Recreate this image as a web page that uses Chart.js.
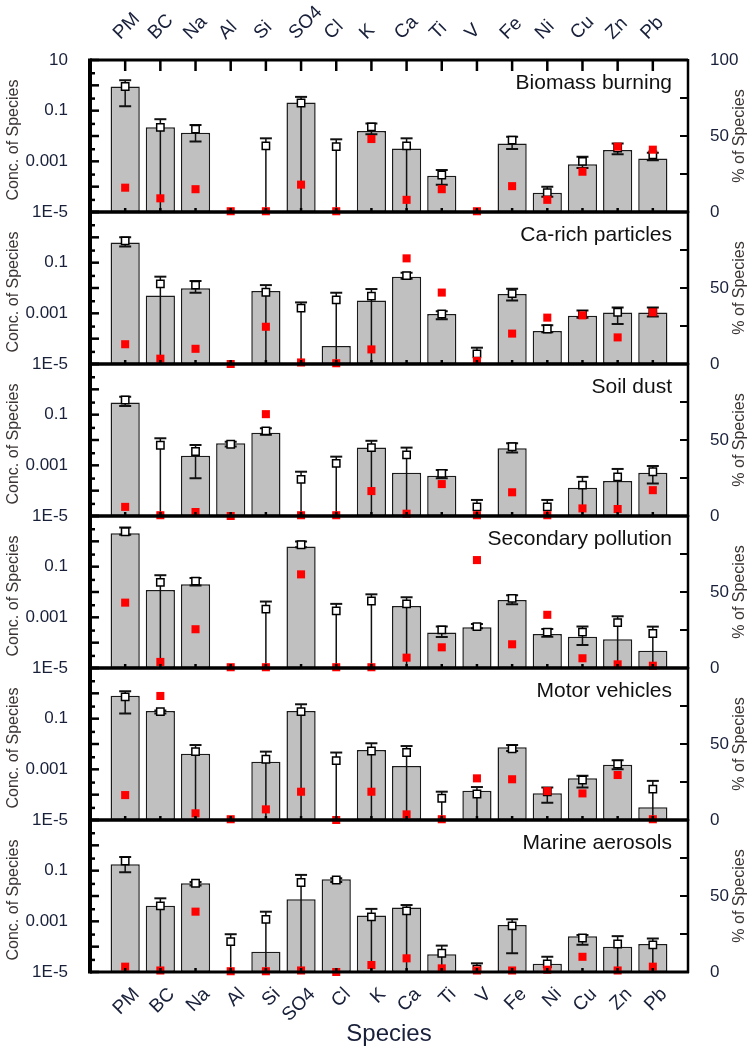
<!DOCTYPE html>
<html>
<head>
<meta charset="utf-8">
<script src="https://cdn.jsdelivr.net/npm/chart.js@4.4.1/dist/chart.umd.min.js"></script>
<style>
  html, body { margin: 0; padding: 0; background: #fff; }
  #wrap { position: relative; width: 750px; height: 1050px; background: #fff; overflow: hidden; }
  #wrap canvas { position: absolute; left: 0; }
</style>
</head>
<body>
<div id="wrap"></div>
<script>
const species = ['PM', 'BC', 'Na', 'Al', 'Si', 'SO4', 'Cl', 'K', 'Ca', 'Ti', 'V', 'Fe', 'Ni', 'Cu', 'Zn', 'Pb'];
const sources = ['Biomass burning', 'Ca-rich particles', 'Soil dust', 'Secondary pollution', 'Motor vehicles', 'Marine aerosols'];
const concTicks = [1e-5, 1e-3, 0.1, 10];
const pctTicks = [0, 50, 100];

// conc = bar, mean = open square, high/low = error bar (0 = down to axis), pct = red square (% of species)
const bbConc = [0.9, 0.022, 0.0135, null, null, 0.21, null, 0.0158, 0.0032, 0.00027, null, 0.0051, 5.8e-5, 0.00076, 0.0028, 0.0013];
const bbMean = [0.9, 0.022, 0.0186, null, 0.0041, 0.2, 0.0038, 0.023, 0.0041, 0.00029, null, 0.0069, 5.8e-5, 0.001, 0.0033, 0.0018];
const bbHigh = [1.6, 0.046, 0.027, null, 0.0081, 0.35, 0.0074, 0.031, 0.0081, 0.00046, null, 0.0093, 1e-4, 0.0015, 0.0051, 0.0022];
const bbLow  = [0.15, 0, 0.006, null, 0, 0, 0, 0.0117, 0, 0.000118, null, 0.0031, 4e-5, 0.00054, 0.0019, 0.0011];
const bbPct  = [16, 9, 15, 0.5, 0.5, 18, 0.5, 48, 8, 15, 0.5, 17, 8, 26.5, 43, 41];

const caConc = [0.63, 0.0051, 0.0098, null, 0.0076, null, 5.1e-5, 0.0032, 0.028, 0.00094, null, 0.0058, 0.0002, 0.00081, 0.00107, 0.00107];
const caMean = [0.72, 0.0145, 0.013, null, 0.0068, 0.0016, 0.0034, 0.0048, 0.031, 0.00094, 2.5e-5, 0.006, 0.00024, 0.0009, 0.0011, 0.0011];
const caHigh = [1.0, 0.028, 0.019, null, 0.013, 0.0027, 0.0065, 0.0091, 0.04, 0.0012, 4.4e-5, 0.0093, 0.00034, 0.0013, 0.0017, 0.0017];
const caLow  = [0.43, 0, 0.0065, null, 0, 0, 0, 0, 0.023, 0.00058, 0, 0.0032, 0.00018, 0.00067, 0.00038, 0.00075];
const caPct  = [13, 3.5, 10, 0, 24.5, 1, 0.5, 9.6, 69.5, 47, 2, 20, 30.5, 32, 17.5, 34];

const sdConc = [0.3, null, 0.0024, 0.0074, 0.0195, null, null, 0.0051, 0.00051, 0.00039, null, 0.0047, null, 0.000131, 0.00024, 0.00051];
const sdMean = [0.38, 0.0062, 0.0035, 0.0068, 0.023, 0.00028, 0.0012, 0.005, 0.0026, 0.00048, 2.3e-5, 0.0054, 2.3e-5, 0.000166, 0.00035, 0.00056];
const sdHigh = [0.51, 0.0117, 0.0063, 0.0085, 0.029, 0.00056, 0.0022, 0.0093, 0.005, 0.00066, 4.3e-5, 0.0074, 4.3e-5, 0.00035, 0.00072, 0.00094];
const sdLow  = [0.22, 0, 0.00031, 0.0055, 0.016, 0, 0, 0, 0, 0.00031, 0, 0.0032, 0, 0, 0, 0.00019];
const sdPct  = [6, 0.5, 2.6, 0, 67, 0.5, 0.5, 16.4, 1.5, 21, 0.5, 15.6, 0.5, 5, 4.6, 17];

const spConc = [2.1, 0.012, 0.02, null, null, 0.62, null, null, 0.0028, 0.00025, 0.00041, 0.0048, 0.00022, 0.000173, 0.000135, 4.8e-5];
const spMean = [2.4, 0.024, 0.027, null, 0.0021, 0.73, 0.0018, 0.0044, 0.0034, 0.00032, 0.00043, 0.0056, 0.00026, 0.00026, 0.00062, 0.00023];
const spHigh = [3.5, 0.046, 0.036, null, 0.0042, 0.98, 0.0034, 0.0081, 0.0062, 0.00043, 0.00054, 0.0074, 0.00035, 0.00043, 0.0011, 0.00043];
const spLow  = [1.8, 0, 0.018, null, 0, 0.58, 0, 0, 0, 0.000166, 0.00037, 0.0033, 0.00017, 8.1e-5, 0, 0];
const spPct  = [43, 4, 25.5, 0.5, 0.5, 61.6, 0.5, 0.5, 6.8, 13.6, 71, 15.6, 35, 6.4, 2.4, 1.5];

const mvConc = [0.8, 0.2, 0.0041, null, 0.002, 0.2, null, 0.0058, 0.00135, null, 0.000144, 0.0074, 0.000113, 0.00044, 0.0015, 3.2e-5];
const mvMean = [0.72, 0.19, 0.005, null, 0.0025, 0.19, 0.0022, 0.0053, 0.0046, 7.2e-5, 0.000106, 0.0064, 0.00013, 0.00038, 0.0016, 0.000166];
const mvHigh = [1.2, 0.21, 0.0091, null, 0.005, 0.37, 0.0046, 0.0107, 0.0083, 0.000131, 0.0002, 0.0091, 0.00019, 0.00056, 0.0023, 0.00035];
const mvLow  = [0.16, 0.16, 0, null, 0, 0, 0, 0, 0, 0, 0, 0.0053, 4.8e-5, 0.00019, 0.001, 0];
const mvPct  = [16.4, 81.6, 4.4, 0.5, 7, 18.6, 0, 18.6, 3.7, 0.5, 27.4, 26.8, 19, 17.5, 29.6, 0.5];

const maConc = [0.18, 0.0041, 0.032, null, 6.3e-5, 0.0074, 0.046, 0.0017, 0.0035, 5e-5, null, 0.00072, 2.1e-5, 0.00026, 0.0001, 0.000128];
const maMean = [0.24, 0.0041, 0.032, 0.000158, 0.0012, 0.034, 0.043, 0.0015, 0.0026, 5.5e-5, 1.3e-5, 0.00066, 2.1e-5, 0.00022, 0.000128, 0.000118];
const maHigh = [0.35, 0.0081, 0.036, 0.00031, 0.0024, 0.068, 0.05, 0.0031, 0.0044, 0.00011, 2.2e-5, 0.0012, 4e-5, 0.00029, 0.00026, 0.00021];
const maLow  = [0.087, 0, 0.026, 0, 0, 0, 0.036, 0, 0, 0, 0, 5.5e-5, 0, 0.000118, 0, 0];
const maPct  = [3.5, 1, 39.7, 0.5, 0.5, 1, 0, 4.6, 9, 2.4, 1, 1, 1.5, 10, 1, 3.5];

const panels = [
  { conc: bbConc, mean: bbMean, high: bbHigh, low: bbLow, pct: bbPct },
  { conc: caConc, mean: caMean, high: caHigh, low: caLow, pct: caPct },
  { conc: sdConc, mean: sdMean, high: sdHigh, low: sdLow, pct: sdPct },
  { conc: spConc, mean: spMean, high: spHigh, low: spLow, pct: spPct },
  { conc: mvConc, mean: mvMean, high: mvHigh, low: mvLow, pct: mvPct },
  { conc: maConc, mean: maMean, high: maHigh, low: maLow, pct: maPct }
];

const FONT = "'Liberation Sans', Arial, sans-serif";
const TXT = '#18203a';
const PLOT_H = 152;
const panelTops = [60, 212, 364, 516, 668, 820];

const pts = arr => arr.map((v, i) => ({ x: i + 1, y: v }));

function fmtConc(v) {
  if (v === 1e-5) return '1E-5';
  if (v === 1e-3) return '0.001';
  if (v === 0.1) return '0.1';
  return '10';
}

function makeDecor(k, p) {
  return {
    id: 'decor' + k,
    afterDatasetDraw(chart, args) {
      if (args.index !== 0) return;
      // error bars, drawn right after the bars
      const ctx = chart.ctx, xs = chart.scales.x, ys = chart.scales.y;
      const area = chart.chartArea;
      ctx.save();
      ctx.strokeStyle = '#111';
      p.high.forEach((hi, i) => {
        if (hi == null) return;
        const x = xs.getPixelForValue(i + 1);
        const yHi = ys.getPixelForValue(hi);
        const lo = p.low[i];
        const yLo = lo > 0 ? ys.getPixelForValue(lo) : area.bottom;
        ctx.lineWidth = 1.5;
        ctx.beginPath(); ctx.moveTo(x, yLo); ctx.lineTo(x, yHi); ctx.stroke();
        ctx.lineWidth = 2;
        ctx.beginPath(); ctx.moveTo(x - 6, yHi); ctx.lineTo(x + 6, yHi);
        if (lo > 0) { ctx.moveTo(x - 6, yLo); ctx.lineTo(x + 6, yLo); }
        ctx.stroke();
      });
      ctx.restore();
    },
    afterDraw(chart) {
      const ctx = chart.ctx, xs = chart.scales.x, ys = chart.scales.y, yr = chart.scales.yR;
      const a = chart.chartArea;
      ctx.save();
      ctx.strokeStyle = '#000';
      // ticks on the log axis
      ctx.lineWidth = 2.5;
      for (let e = -5; e <= 1; e++) {
        const y = ys.getPixelForValue(Math.pow(10, e));
        ctx.beginPath(); ctx.moveTo(a.left, y); ctx.lineTo(a.left + 9, y); ctx.stroke();
        if (e < 1) {
          const y3 = ys.getPixelForValue(3 * Math.pow(10, e));
          ctx.beginPath(); ctx.moveTo(a.left, y3); ctx.lineTo(a.left + 5, y3); ctx.stroke();
        }
      }
      // ticks on the % axis
      ctx.lineWidth = 2;
      [25, 50, 75].forEach(v => {
        const y = yr.getPixelForValue(v);
        ctx.beginPath(); ctx.moveTo(a.right, y); ctx.lineTo(a.right - 8, y); ctx.stroke();
      });
      // category ticks
      ctx.lineWidth = 2.5;
      species.forEach((s, i) => {
        const x = xs.getPixelForValue(i + 1);
        ctx.beginPath(); ctx.moveTo(x, a.bottom); ctx.lineTo(x, a.bottom - 4); ctx.stroke();
        if (k === 0) { ctx.beginPath(); ctx.moveTo(x, a.top); ctx.lineTo(x, a.top + 11); ctx.stroke(); }
      });
      // frame
      ctx.lineWidth = 3;
      ctx.beginPath(); ctx.moveTo(a.left, a.top); ctx.lineTo(a.right, a.top); ctx.stroke();
      ctx.beginPath(); ctx.moveTo(a.left, a.bottom); ctx.lineTo(a.right + 1, a.bottom); ctx.stroke();
      ctx.lineWidth = 2.5;
      ctx.beginPath(); ctx.moveTo(a.right, a.top - 1); ctx.lineTo(a.right, a.bottom + 1); ctx.stroke();
      ctx.lineWidth = 4;
      ctx.beginPath(); ctx.moveTo(a.left, a.top - 1.5); ctx.lineTo(a.left, a.bottom + 1.5); ctx.stroke();

      // panel name
      ctx.fillStyle = '#111';
      ctx.font = '21px ' + FONT;
      ctx.textAlign = 'right';
      ctx.textBaseline = 'middle';
      ctx.fillText(sources[k], a.right - 16, a.top + 23);

      // axis titles
      const mid = (a.top + a.bottom) / 2;
      ctx.fillStyle = '#3a3433';
      ctx.font = '16px ' + FONT;
      ctx.textAlign = 'center';
      ctx.save(); ctx.translate(14, mid + 4); ctx.rotate(-Math.PI / 2); ctx.fillText('Conc. of Species', 0, 0); ctx.restore();
      ctx.save(); ctx.translate(740, mid); ctx.rotate(-Math.PI / 2); ctx.fillText('% of Species', 0, 0); ctx.restore();

      // category labels
      ctx.fillStyle = TXT;
      ctx.font = '19px ' + FONT;
      ctx.textBaseline = 'alphabetic';
      if (k === 0) {
        ctx.textAlign = 'left';
        species.forEach((s, i) => {
          const x = xs.getPixelForValue(i + 1);
          ctx.save(); ctx.translate(x - 5, a.top - 20); ctx.rotate(-Math.PI / 4); ctx.fillText(s, 0, 0); ctx.restore();
        });
      }
      if (k === panels.length - 1) {
        ctx.textAlign = 'right';
        species.forEach((s, i) => {
          const x = xs.getPixelForValue(i + 1);
          ctx.save(); ctx.translate(x + 15, a.bottom + 23); ctx.rotate(-Math.PI / 4); ctx.fillText(s, 0, 0); ctx.restore();
        });
        ctx.textAlign = 'center';
        ctx.textBaseline = 'middle';
        ctx.font = '24px ' + FONT;
        ctx.fillText('Species', (a.left + a.right) / 2, a.bottom + 62);
      }
      ctx.restore();
    }
  };
}

const wrap = document.getElementById('wrap');

panels.forEach((p, k) => {
  const top = k === 0 ? 0 : panelTops[k] - 12;
  const padTop = k === 0 ? 60 : 12;
  const h = k === panels.length - 1 ? 1050 - top : padTop + PLOT_H + 12;
  const padBottom = h - padTop - PLOT_H;

  const cv = document.createElement('canvas');
  cv.width = 750; cv.height = h;
  cv.style.width = '750px'; cv.style.height = h + 'px';
  cv.style.top = top + 'px';
  wrap.appendChild(cv);

  const noPad = s => { s.paddingTop = 0; s.paddingBottom = 0; };

  new Chart(cv, {
    type: 'bar',
    data: {
      datasets: [
        {
          type: 'bar', data: pts(p.conc), yAxisID: 'y', order: 3,
          backgroundColor: '#c0c0c0', borderColor: '#1a1a1a', borderWidth: 1.5, borderSkipped: false,
          barPercentage: 0.83, categoryPercentage: 1
        },
        {
          type: 'line', data: pts(p.mean), yAxisID: 'y', order: 2, showLine: false,
          pointStyle: 'rect', pointRadius: 5.2, pointBackgroundColor: '#fff',
          pointBorderColor: '#000', pointBorderWidth: 1.5
        },
        {
          type: 'line', data: pts(p.pct), yAxisID: 'yR', order: 1, showLine: false, clip: false,
          pointStyle: 'rect', pointRadius: 5.7, pointBackgroundColor: '#ff0000',
          pointBorderColor: '#ff0000', pointBorderWidth: 0
        }
      ]
    },
    options: {
      responsive: false,
      animation: false,
      events: [],
      layout: { padding: { top: padTop, bottom: padBottom, left: 0, right: 0 } },
      plugins: { legend: { display: false }, tooltip: { enabled: false } },
      scales: {
        x: { type: 'linear', min: 0, max: 17, offset: false, display: false },
        y: {
          type: 'logarithmic', position: 'left', min: 1e-5, max: 10,
          afterBuildTicks: s => { s.ticks = concTicks.map(v => ({ value: v })); },
          afterFit: s => { s.width = 90; noPad(s); },
          grid: { display: false },
          border: { display: false },
          ticks: {
            padding: 14, color: TXT, font: { family: FONT, size: 17 },
            callback: v => (k > 0 && v === 10) ? '' : fmtConc(v)
          }
        },
        yR: {
          type: 'linear', position: 'right', min: 0, max: 100,
          afterBuildTicks: s => { s.ticks = pctTicks.map(v => ({ value: v })); },
          afterFit: s => { s.width = 62; noPad(s); },
          grid: { display: false },
          border: { display: false },
          ticks: {
            padding: 14, color: TXT, font: { family: FONT, size: 17 },
            callback: v => (k > 0 && v === 100) ? '' : String(v)
          }
        }
      }
    },
    plugins: [makeDecor(k, p)]
  });
});
</script>
</body>
</html>
